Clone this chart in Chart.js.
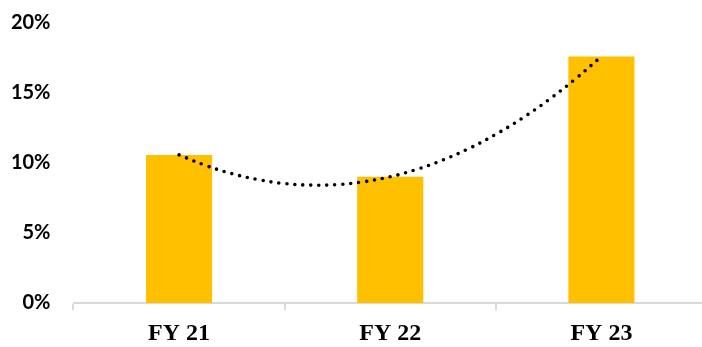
<!DOCTYPE html>
<html>
<head>
<meta charset="utf-8">
<script src="https://cdn.jsdelivr.net/npm/chart.js@4"></script>
<style>
  html, body { margin: 0; padding: 0; background: #fff; overflow: hidden; }
  #wrap { width: 707px; height: 359px; margin-top: -12px; }
</style>
</head>
<body>
<div id="wrap"><canvas id="growthChart"></canvas></div>
<script>
// categorias e valores
const years = ['FY 21', 'FY 22', 'FY 23'];
const growthPct = [10.58, 9.02, 17.61];
const yTicks = [0, 5, 10, 15, 20];

// linha de tendência pontilhada (posição na categoria, valor lido)
const trendPos = [0, 0.125, 0.25, 0.375, 0.5, 0.625, 0.75, 0.875, 1, 1.125, 1.25, 1.375, 1.5, 1.625, 1.75, 1.875, 2];
const trendPct = [10.58, 9.83, 9.24, 8.81, 8.53, 8.42, 8.46, 8.66, 9.02, 9.54, 10.22, 11.05, 12.05, 13.20, 14.51, 15.98, 17.61];

const ctx = document.getElementById('growthChart').getContext('2d');
new Chart(ctx, {
    type: 'bar',
    data: {
        labels: years,
        datasets: [{
            type: 'line',
            data: trendPos.map((p, i) => ({ x: p, y: trendPct[i] })),
            xAxisID: 'xt',
            borderColor: '#000',
            borderWidth: 3.6,
            borderDash: [0, 8],
            borderCapStyle: 'round',
            pointRadius: 0,
            tension: 0.4,
            fill: false
        }, {
            data: growthPct,
            xAxisID: 'x',
            grouped: false,
            backgroundColor: '#FFC000',
            categoryPercentage: 1,
            barPercentage: 0.313
        }]
    },
    options: {
        responsive: true,
        maintainAspectRatio: false,
        animation: false,
        layout: { padding: { top: 0, left: 0, right: 0, bottom: 0 } },
        plugins: { legend: { display: false }, tooltip: { enabled: false } },
        scales: {
            x: {
                offset: true,
                afterFit: axis => { axis.height = 44; },
                grid: {
                    display: true,
                    offset: true,
                    drawOnChartArea: false,
                    drawTicks: true,
                    tickLength: 7,
                    color: '#d9d9d9',
                    lineWidth: 2
                },
                border: { display: true, color: '#d9d9d9', width: 2 },
                ticks: {
                    color: '#000',
                    padding: 9,
                    font: { family: 'Liberation Serif', size: 24, weight: 'bold' }
                }
            },
            xt: {
                type: 'linear',
                display: false,
                offset: false,
                min: -0.5,
                max: 2.5
            },
            y: {
                min: 0,
                max: 20,
                afterBuildTicks: axis => { axis.ticks = yTicks.map(v => ({ value: v })); },
                afterFit: axis => { axis.width = 73.5; },
                grid: { display: false, drawTicks: false },
                border: { display: false },
                ticks: {
                    color: '#000',
                    padding: 23,
                    callback: v => v + '%',
                    font: { family: 'Lato', size: 20, weight: 'bold' }
                }
            }
        }
    }
});
</script>
</body>
</html>
